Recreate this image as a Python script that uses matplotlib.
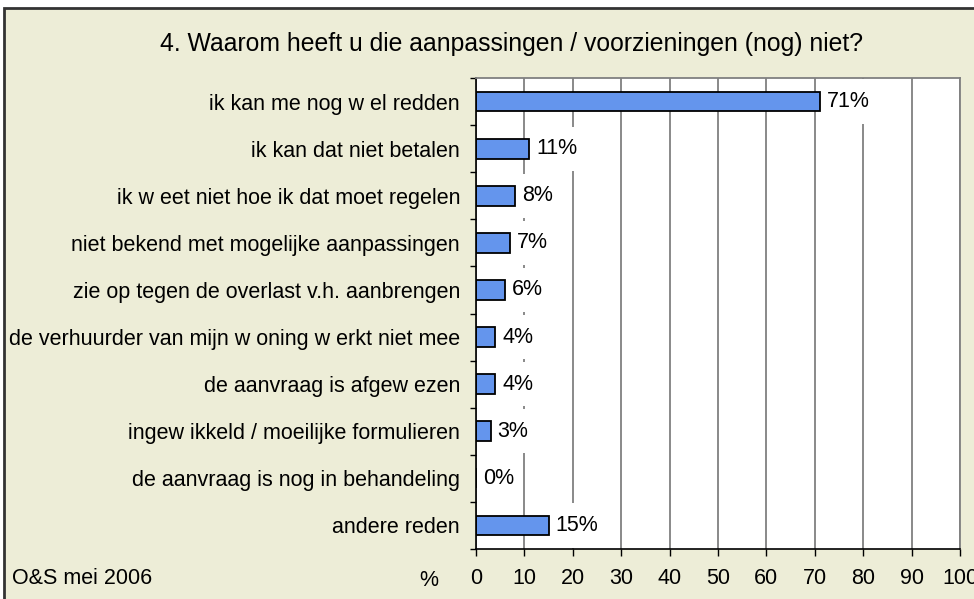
import matplotlib
matplotlib.use("Agg")
import matplotlib.pyplot as plt
from matplotlib.patches import Rectangle
import numpy as np

categories = [
    "ik kan me nog w el redden",
    "ik kan dat niet betalen",
    "ik w eet niet hoe ik dat moet regelen",
    "niet bekend met mogelijke aanpassingen",
    "zie op tegen de overlast v.h. aanbrengen",
    "de verhuurder van mijn w oning w erkt niet mee",
    "de aanvraag is afgew ezen",
    "ingew ikkeld / moeilijke formulieren",
    "de aanvraag is nog in behandeling",
    "andere reden",
]
values = [71, 11, 8, 7, 6, 4, 4, 3, 0, 15]
xticks = [0, 10, 20, 30, 40, 50, 60, 70, 80, 90, 100]
title = "4. Waarom heeft u die aanpassingen / voorzieningen (nog) niet?"
source = "O&S mei 2006"

plt.rcParams['font.family'] = ['Liberation Sans', 'DejaVu Sans']
FS = 15.5
BG = '#EDEDD7'
W, H = 974, 599
fig = plt.figure(figsize=(W / 100, H / 100), dpi=100, facecolor='white')

# chart frame
fig.patches.append(Rectangle((4 / W, -0.05), 1.1, 1 - 8 / H + 0.05,
                             transform=fig.transFigure, facecolor=BG,
                             edgecolor='#333333', lw=2, zorder=-5))

ax = fig.add_axes([476 / W, 1 - 549 / H, (960 - 476) / W, (549 - 78) / H])
ax.set_zorder(2)
ax.set_facecolor('white')
y = np.arange(len(categories))
ax.barh(y, values, height=0.42, color='#6495ED', edgecolor='black', lw=1.3, zorder=2)
ax.set_xlim(0, 100)
ax.set_ylim(len(categories) - 0.5, -0.5)

ax.set_axisbelow(True)
ax.xaxis.grid(True, color='#808080', lw=1.3)
ax.set_xticks(xticks)
ax.set_xticklabels([str(t) for t in xticks], fontsize=FS)
ax.tick_params(axis='x', direction='out', length=5, width=1, pad=9, color='black')

ax.set_yticks(np.arange(-0.5, len(categories), 1.0))
ax.set_yticklabels([])
ax.tick_params(axis='y', which='major', direction='out', length=4.5, width=1, color='black')
ax.set_yticks(y, minor=True)
ax.set_yticklabels(categories, minor=True, fontsize=FS)
ax.tick_params(axis='y', which='minor', length=0, pad=11.5)

for s in ['top', 'right']:
    ax.spines[s].set_color('#808080')
    ax.spines[s].set_linewidth(1.3)
for s in ['left', 'bottom']:
    ax.spines[s].set_color('black')
    ax.spines[s].set_linewidth(1.2)

for yi, v in zip(y, values):
    ax.annotate(f"{v}%", xy=(v, yi), xytext=(5, 0), textcoords='offset points',
                ha='left', va='center', fontsize=FS, zorder=5,
                bbox=dict(boxstyle='square,pad=0.2', facecolor='white',
                          edgecolor='none', mutation_aspect=2.7))

fig.text(511 / W, 1 - 44 / H, title, ha='center', va='center', fontsize=17.8, zorder=3)
fig.text(12 / W, 1 - 578 / H, source, ha='left', va='center', fontsize=FS, zorder=3)
fig.text(429 / W, 1 - 580 / H, "%", ha='center', va='center', fontsize=FS, zorder=3)

fig.savefig("out.png", dpi=100, facecolor='white')
